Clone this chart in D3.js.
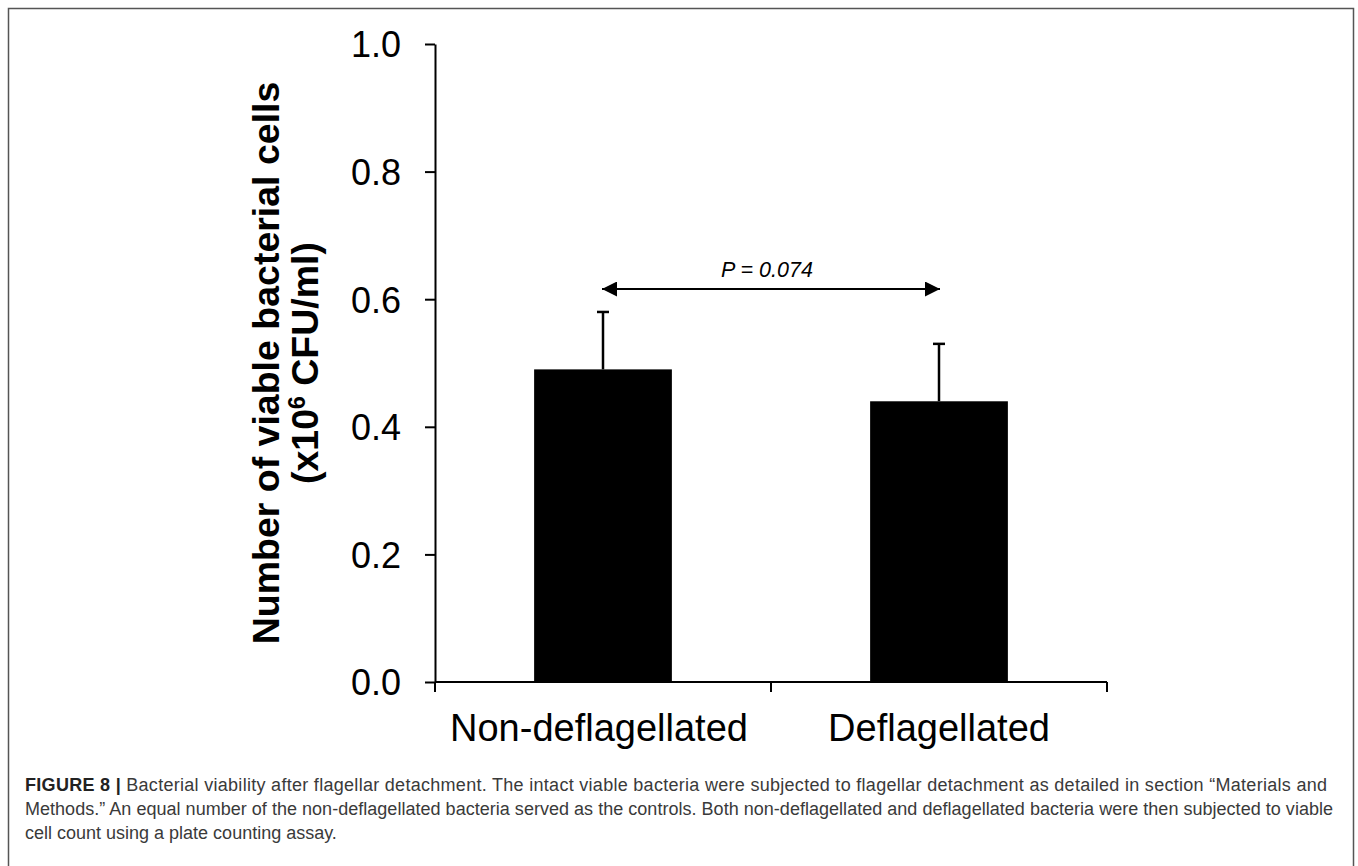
<!DOCTYPE html>
<html>
<head>
<meta charset="utf-8">
<script src="https://cdn.jsdelivr.net/npm/d3@7/dist/d3.min.js"></script>
<style>
  html, body { margin: 0; padding: 0; background: #fff; }
  svg { display: block; }
</style>
</head>
<body>
<script>
// Viable cell counts (x10^6 CFU/ml), mean and upper error
const categories = ["Non-deflagellated", "Deflagellated"];
const means = [0.49, 0.44];
const errors = [0.09, 0.09];
const yTicks = [0.0, 0.2, 0.4, 0.6, 0.8, 1.0];
const pLabel = "P = 0.074";
const yTitle = ["Number of viable bacterial cells", "(x10", "6", " CFU/ml)"];
const captionLines = [
  ["FIGURE 8 | ", "Bacterial viability after flagellar detachment. The intact viable bacteria were subjected to flagellar detachment as detailed in section \u201cMaterials and"],
  ["", "Methods.\u201d An equal number of the non-deflagellated bacteria served as the controls. Both non-deflagellated and deflagellated bacteria were then subjected to viable"],
  ["", "cell count using a plate counting assay."]
];
// justified widths for the wrapped caption lines (last line runs natural)
const captionWidths = [1302, 1308, null];

const W = 1358, H = 866;
const svg = d3.select("body").append("svg").attr("width", W).attr("height", H);

// figure frame (open at the bottom)
svg.append("path")
  .attr("d", `M8.5,${H + 5} V8.5 H1353.5 V${H + 5}`)
  .attr("fill", "none").attr("stroke", "#555").attr("stroke-width", 1.5);

const plot = { left: 435, right: 1107, top: 44, bottom: 682 };
const font = "'Liberation Sans', Arial, Helvetica, sans-serif";

const y = d3.scaleLinear().domain([0, 1]).range([plot.bottom, plot.top]);
const x = d3.scaleBand().domain(categories).range([plot.left, plot.right]).padding(0);
const barW = x.bandwidth() * 0.41;
const cx = c => x(c) + x.bandwidth() / 2;

// y axis
const yAxis = svg.append("g")
  .attr("transform", `translate(${plot.left},0)`)
  .call(d3.axisLeft(y).tickValues(yTicks).tickFormat(d3.format(".1f"))
    .tickSize(10).tickSizeOuter(0).tickPadding(24));
yAxis.select(".domain").attr("stroke", "#000").attr("stroke-width", 2);
yAxis.selectAll(".tick line").attr("stroke", "#000").attr("stroke-width", 2);
yAxis.selectAll(".tick text")
  .attr("font-family", font).attr("font-size", 36).attr("fill", "#000")
  .attr("dy", "0.36em");

// bars
svg.append("g").selectAll("rect")
  .data(categories)
  .join("rect")
  .attr("x", c => cx(c) - barW / 2)
  .attr("width", barW)
  .attr("y", (c, i) => y(means[i]))
  .attr("height", (c, i) => y(0) - y(means[i]))
  .attr("fill", "#000");

// upper error bars
const eb = svg.append("g").attr("stroke", "#000").attr("stroke-width", 2.5);
categories.forEach((c, i) => {
  const top = y(means[i] + errors[i]);
  eb.append("line").attr("x1", cx(c)).attr("x2", cx(c))
    .attr("y1", y(means[i])).attr("y2", top);
  eb.append("line").attr("x1", cx(c) - 6).attr("x2", cx(c) + 6)
    .attr("y1", top).attr("y2", top);
});

// x axis with boundary ticks
const xg = svg.append("g");
xg.append("line")
  .attr("x1", plot.left).attr("x2", plot.right)
  .attr("y1", plot.bottom).attr("y2", plot.bottom)
  .attr("stroke", "#000").attr("stroke-width", 2);
const edges = categories.map(c => x(c)).concat([plot.right]);
xg.selectAll("line.tk").data(edges).join("line").attr("class", "tk")
  .attr("x1", d => d).attr("x2", d => d)
  .attr("y1", plot.bottom).attr("y2", plot.bottom + 10)
  .attr("stroke", "#000").attr("stroke-width", 2);
xg.selectAll("text").data(categories).join("text")
  .attr("x", (c, i) => cx(c) - (i === 0 ? 4 : 0)).attr("y", 741)
  .attr("text-anchor", "middle")
  .attr("font-family", font).attr("font-size", 38).attr("fill", "#000")
  .text(c => c);

// y axis title
const yt = svg.append("text")
  .attr("transform", `translate(0,${(plot.top + plot.bottom) / 2}) rotate(-90)`)
  .attr("font-family", font).attr("font-weight", "bold").attr("font-size", 37.5)
  .attr("text-anchor", "middle").attr("fill", "#000");
yt.append("tspan").attr("x", 0).attr("y", 279).text(yTitle[0]);
const l2 = yt.append("tspan").attr("x", 0).attr("y", 318);
l2.append("tspan").text(yTitle[1]);
l2.append("tspan").attr("font-size", 23).attr("dy", -13).text(yTitle[2]);
l2.append("tspan").attr("dy", 13).text(yTitle[3]);

// significance arrow
const defs = svg.append("defs");
["start", "end"].forEach(k => {
  defs.append("marker")
    .attr("id", "arrow-" + k)
    .attr("viewBox", "0 0 10 10")
    .attr("refX", k === "end" ? 10 : 0).attr("refY", 5)
    .attr("markerUnits", "userSpaceOnUse")
    .attr("markerWidth", 17).attr("markerHeight", 15)
    .attr("orient", "auto")
    .append("path")
    .attr("d", k === "end" ? "M0,0 L10,5 L0,10 Z" : "M10,0 L0,5 L10,10 Z")
    .attr("fill", "#000");
});
const ax1 = cx(categories[0]) - 1, ax2 = cx(categories[1]) + 1;
const ay = 289;
svg.append("line")
  .attr("x1", ax1).attr("x2", ax2).attr("y1", ay).attr("y2", ay)
  .attr("stroke", "#000").attr("stroke-width", 2)
  .attr("marker-start", "url(#arrow-start)").attr("marker-end", "url(#arrow-end)");
svg.append("text")
  .attr("x", (ax1 + ax2) / 2 - 4).attr("y", 277)
  .attr("text-anchor", "middle")
  .attr("font-family", font).attr("font-style", "italic").attr("font-size", 21.5)
  .attr("fill", "#000").text(pLabel);

// caption
const cap = svg.append("g").attr("font-family", font)
  .attr("font-size", 18).attr("fill", "#3a3a3a");
captionLines.forEach((ln, i) => {
  const t = cap.append("text").attr("x", 25).attr("y", 791 + i * 24);
  if (captionWidths[i]) t.attr("textLength", captionWidths[i]).attr("lengthAdjust", "spacing");
  if (ln[0]) t.append("tspan").attr("font-weight", "bold").attr("fill", "#222").text(ln[0]);
  t.append("tspan").text(ln[1]);
});
</script>
</body>
</html>
